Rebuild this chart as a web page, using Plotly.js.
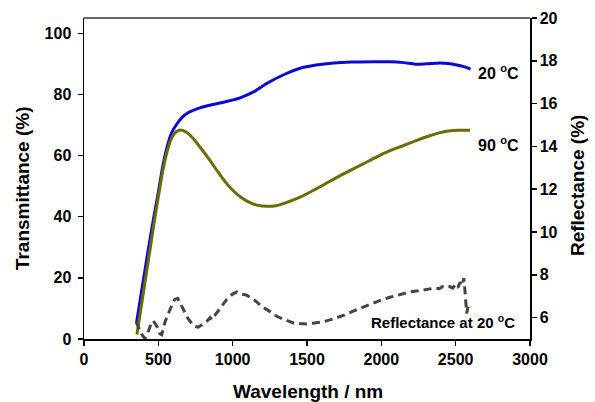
<!DOCTYPE html>
<html>
<head>
<meta charset="utf-8">
<script src="https://cdn.plot.ly/plotly-3.0.1.min.js"></script>
<style>
  html, body { margin: 0; padding: 0; background: #ffffff; }
  #chart { width: 595px; height: 402px; }
</style>
</head>
<body>
<div id="chart"></div>
<script>
// Transmittance at 20 °C (blue) and 90 °C (olive), left axis, in %
const wl20 = [354, 380, 410, 440, 470, 500, 530, 560, 590, 620, 660, 700, 780, 860, 960, 1050, 1150, 1230, 1350, 1450, 1560, 1680, 1800, 1950, 2060, 2150, 2230, 2300, 2395, 2450, 2507, 2560, 2600];
const trans20 = [5.5, 13.5, 22.5, 31.5, 40, 48, 56.5, 63, 67.5, 70, 72.5, 74, 75.6, 76.6, 77.7, 78.9, 81.1, 83.6, 86.6, 88.5, 89.6, 90.3, 90.6, 90.7, 90.7, 90.4, 89.9, 90.0, 90.3, 90.1, 89.6, 89.0, 88.3];

const wl90 = [356, 380, 410, 440, 470, 500, 530, 560, 590, 620, 650, 690, 730, 780, 840, 893, 950, 1004, 1060, 1117, 1170, 1229, 1290, 1341, 1450, 1565, 1680, 1789, 1879, 1970, 2058, 2150, 2238, 2320, 2395, 2450, 2520, 2597];
const trans90 = [1.5, 9, 18.5, 28, 37.5, 46.5, 55, 61.5, 65.8, 67.8, 68.4, 67.6, 65.8, 62.8, 58.9, 55.2, 51.4, 48.5, 46.2, 44.6, 43.7, 43.4, 43.6, 44.3, 46.3, 49.2, 52.3, 55.1, 57.3, 59.6, 61.6, 63.3, 65.0, 66.4, 67.5, 68.0, 68.3, 68.3];

// Reflectance at 20 °C, right axis, in %
const wlR = [350, 370, 390, 410, 430, 450, 466, 490, 510, 523, 545, 580, 610, 630, 660, 700, 740, 769, 800, 830, 848, 860, 880, 920, 960, 1000, 1027, 1060, 1094, 1150, 1200, 1251, 1300, 1350, 1408, 1450, 1498, 1550, 1610, 1680, 1744, 1810, 1879, 1950, 2010, 2058, 2120, 2193, 2250, 2300, 2327, 2360, 2390, 2410, 2430, 2462, 2480, 2500, 2515, 2530, 2545, 2555, 2562, 2568, 2574, 2580, 2590];
const refl20 = [5.8, 5.5, 5.2, 5.02, 5.3, 5.7, 5.85, 5.6, 5.25, 5.2, 5.8, 6.4, 6.85, 6.9, 6.5, 5.95, 5.6, 5.55, 5.7, 5.85, 6.0, 5.9, 6.1, 6.5, 6.85, 7.1, 7.2, 7.1, 7.05, 6.8, 6.5, 6.28, 6.05, 5.9, 5.75, 5.72, 5.7, 5.75, 5.8, 5.95, 6.1, 6.3, 6.5, 6.7, 6.85, 6.95, 7.05, 7.2, 7.25, 7.3, 7.35, 7.38, 7.35, 7.45, 7.4, 7.45, 7.38, 7.55, 7.4, 7.65, 7.5, 7.85, 7.3, 6.9, 6.2, 6.4, 6.7];

const xTicks = [0, 500, 1000, 1500, 2000, 2500, 3000];
const yLeftTicks = [0, 20, 40, 60, 80, 100];
const yRightTicks = [6, 8, 10, 12, 14, 16, 18, 20];

const FONT = 'Arial, "Liberation Sans", sans-serif';

const traces = [
  { x: wl20, y: trans20, type: 'scatter', mode: 'lines', name: '20 °C',
    line: { color: '#0a0ad2', width: 3, shape: 'spline', smoothing: 0.8 }, yaxis: 'y' },
  { x: wl90, y: trans90, type: 'scatter', mode: 'lines', name: '90 °C',
    line: { color: '#6b6b00', width: 3, shape: 'spline', smoothing: 0.8 }, yaxis: 'y' },
  { x: wlR, y: refl20, type: 'scatter', mode: 'lines', name: 'Reflectance at 20 °C',
    line: { color: '#444444', width: 3, dash: '8px,5px' }, yaxis: 'y2' }
];

const tickFont = { family: FONT, size: 16, color: '#000000', weight: 'bold' };
const titleFont = { family: FONT, size: 19, color: '#000000', weight: 'bold' };

const axisCommon = {
  ticks: 'outside', ticklen: 5, tickwidth: 1.5, tickcolor: '#000',
  showline: true, linecolor: '#000', linewidth: 1.5,
  showgrid: false, zeroline: false, tickfont: tickFont
};

const layout = {
  width: 595, height: 402,
  margin: { l: 84, r: 65, t: 18, b: 63 },
  paper_bgcolor: '#ffffff', plot_bgcolor: '#ffffff',
  showlegend: false,
  font: { family: FONT },
  xaxis: Object.assign({ range: [0, 3000], tickvals: xTicks, ticktext: xTicks.map(String) }, axisCommon),
  yaxis: Object.assign({ range: [0, 105], tickvals: yLeftTicks, ticktext: yLeftTicks.map(String),
    ticklabelstandoff: 3 }, axisCommon),
  yaxis2: Object.assign({ range: [5, 20], overlaying: 'y', side: 'right',
    tickvals: yRightTicks, ticktext: yRightTicks.map(String) }, axisCommon),
  shapes: [
    // grey top edge of the plot frame
    { type: 'line', xref: 'paper', yref: 'paper', x0: 0, x1: 1, y0: 1, y1: 1,
      line: { color: '#666666', width: 2 } }
  ],
  annotations: [
    { text: 'Transmittance (%)', xref: 'paper', yref: 'paper', x: -0.139, y: 0.47,
      textangle: -90, showarrow: false, font: titleFont, xanchor: 'center', yanchor: 'middle' },
    { text: 'Reflectance (%)', xref: 'paper', yref: 'paper', x: 1.108, y: 0.48,
      textangle: -90, showarrow: false, font: titleFont, xanchor: 'center', yanchor: 'middle' },
    { text: 'Wavelength / nm', xref: 'paper', yref: 'paper', x: 0.502, y: -0.163,
      showarrow: false, font: titleFont, xanchor: 'center', yanchor: 'middle' },
    { text: '20 <sup>o</sup>C', xref: 'x', yref: 'y', x: 2640, y: 87.5,
      showarrow: false, xanchor: 'left', yanchor: 'middle',
      font: { family: FONT, size: 16, color: '#000', weight: 'bold' } },
    { text: '90 <sup>o</sup>C', xref: 'x', yref: 'y', x: 2640, y: 63.8,
      showarrow: false, xanchor: 'left', yanchor: 'middle',
      font: { family: FONT, size: 16, color: '#000', weight: 'bold' } },
    { text: 'Reflectance at 20 <sup>o</sup>C', xref: 'x', yref: 'y', x: 2915, y: 5.6,
      showarrow: false, xanchor: 'right', yanchor: 'middle',
      font: { family: FONT, size: 15, color: '#000', weight: 'bold' } }
  ]
};

Plotly.newPlot('chart', traces, layout, { staticPlot: true, displayModeBar: false });
</script>
</body>
</html>
